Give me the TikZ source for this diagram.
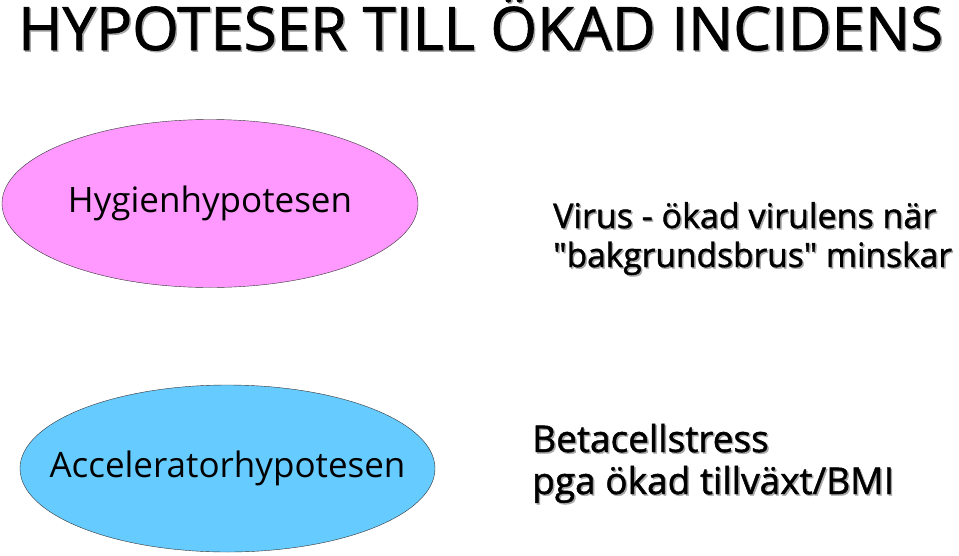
\documentclass[tikz,border=0pt]{standalone}
\usepackage{fontspec}
\setmainfont{Open Sans}
\newfontfamily\heavyfont[FakeBold=1.2]{Open Sans}
\usetikzlibrary{shapes.geometric}
\definecolor{hygpink}{HTML}{FF99FF}
\definecolor{accblue}{HTML}{66CCFF}
\definecolor{shadowgray}{HTML}{A8A8A8}
\newcommand{\shadtext}[5]{ \node[text=shadowgray, anchor=base west, inner sep=0pt, font=\heavyfont\fontsize{#4}{#4}\selectfont, xshift=1.5pt, yshift=-1.5pt] at ( #2 , #3 ) {#5}; \node[anchor=base west, inner sep=0pt, font=\heavyfont\fontsize{#4}{#4}\selectfont] (#1) at ( #2 , #3 ) {#5};}
\newcommand{\hypnode}[7]{ \node[ellipse, draw=black!80, fill=#4, minimum width=#5, minimum height=#6, inner sep=0pt] (#1) at ( #2 , #3 ) {}; \node[inner sep=0pt, font=\fontsize{35}{35}\selectfont] (#1text) at (#1) {#7};}

\begin{document}
\begin{tikzpicture}[x=1pt,y=-1pt]
        \useasboundingbox (0,0) rectangle (959,555);
        % title
        \shadtext{title}{18}{50}{60}{HYPOTESER TILL ÖKAD INCIDENS}

        % row 1
        \hypnode{hyg}{210}{203.5}{hygpink}{416}{168}{Hygienhypotesen}
        \shadtext{virus}{553}{228}{34}{Virus - ökad virulens när}
        \shadtext{brus}{553}{267}{33.5}{\textquotedbl bakgrundsbrus\textquotedbl\ minskar}

        % row 2
        \hypnode{acc}{227.5}{468.5}{accblue}{415}{167}{Acceleratorhypotesen}
        \shadtext{beta}{532}{452}{37}{Betacellstress}
        \shadtext{bmi}{532}{494}{37}{pga ökad tillväxt/BMI}

    \end{tikzpicture}
\end{document}
